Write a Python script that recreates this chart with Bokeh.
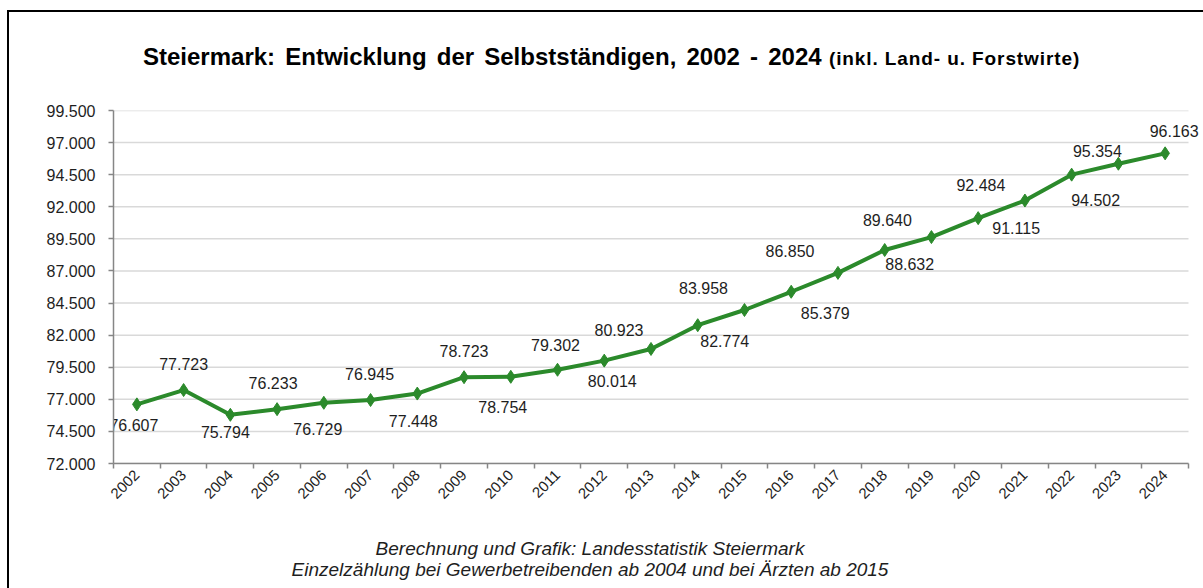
from bokeh.plotting import figure
from bokeh.models import (ColumnDataSource, Range1d, FixedTicker, CustomJSTickFormatter, Div)
from bokeh.layouts import column
from bokeh.core.properties import value
from bokeh.embed import file_html
from bokeh.resources import INLINE
import numpy as np

# ---- data ----
years = [str(y) for y in range(2002, 2025)]
selbststaendige = [76607, 77723, 75794, 76233, 76729, 76945, 77448, 78723, 78754, 79302,
                   80014, 80923, 82774, 83958, 85379, 86850, 88632, 89640, 91115, 92484,
                   94502, 95354, 96163]
y_ticks = [72000 + 2500 * i for i in range(12)]

# label placement offsets (pixels) relative to each point, as in the original
label_dx = [-3, 0, -5, -4, -6, -1, -4, 0, -8, -2, 8, -32, 27, -41, 34, -48, 25, -44, 38, -44, 24, -21, 9]
label_dy = [21, -26, 17, -26, 26, -26, 27, -26, 30, -25, 20, -19, 16, -22, 21, -22, 14, -17, 10, -16, 25, -13, -22]

title_main = "Steiermark: Entwicklung der Selbstständigen, 2002 - 2024"
title_sub = "(inkl. Land- u. Forstwirte)"
footer_1 = "Berechnung und Grafik: Landesstatistik Steiermark"
footer_2 = "Einzelzählung bei Gewerbetreibenden ab 2004 und bei Ärzten ab 2015"

GREEN = "#2b8a2b"
TEXT = "#1e1e1e"
AXIS = "#868686"
FONT = "Liberation Sans"

n = len(years)
xs = [i + 0.5 for i in range(n)]
labels = [f"{v:,}".replace(",", ".") for v in selbststaendige]
src = ColumnDataSource(dict(x=xs, y=selbststaendige, label=labels, dx=label_dx, dy=label_dy))
grid_src = ColumnDataSource(dict(x0=[0] * len(y_ticks), x1=[n] * len(y_ticks), y=y_ticks))

W = 1194
cat_px = 1075 / n              # pixel width of one category
frame_w = W - 104 - 2

p = figure(width=W, height=431, output_backend="svg", toolbar_location=None,
           x_range=Range1d(0, frame_w / cat_px), y_range=Range1d(y_ticks[0], y_ticks[-1]),
           min_border_left=104, min_border_right=2, min_border_top=28, min_border_bottom=50,
           margin=0)
p.outline_line_color = None
p.background_fill_color = "white"
p.border_fill_color = "white"

# gridlines (only across the category area)
p.ygrid.grid_line_color = None
p.xgrid.grid_line_color = None
p.segment("x0", "y", "x1", "y", source=grid_src, line_color="#d9d9d9", line_width=1.5)

# x axis
p.xaxis.bounds = (0, n)
p.xaxis.ticker = FixedTicker(ticks=xs, minor_ticks=list(range(n + 1)))
p.xaxis.formatter = CustomJSTickFormatter(args=dict(years=years), code="return years[Math.floor(tick)];")
p.xaxis.major_tick_line_color = None
p.xaxis.minor_tick_line_color = AXIS
p.xaxis.minor_tick_out = 5
p.xaxis.minor_tick_in = 0
p.xaxis.minor_tick_line_width = 1.5
p.xaxis.major_label_orientation = np.pi / 4
p.xaxis.major_label_standoff = 3
p.xaxis.major_label_text_font = FONT
p.xaxis.major_label_text_font_size = "15px"
p.xaxis.major_label_text_color = TEXT
p.xaxis.axis_line_color = AXIS
p.xaxis.axis_line_width = 1.5

# y axis
p.yaxis.ticker = FixedTicker(ticks=y_ticks, minor_ticks=[])
p.yaxis.formatter = CustomJSTickFormatter(code="return (tick/1000).toFixed(3);")
p.yaxis.major_tick_line_color = AXIS
p.yaxis.major_tick_out = 5
p.yaxis.major_tick_in = 0
p.yaxis.major_tick_line_width = 1.5
p.yaxis.minor_tick_line_color = None
p.yaxis.major_label_standoff = 13
p.yaxis.major_label_text_font = FONT
p.yaxis.major_label_text_font_size = "16px"
p.yaxis.major_label_text_color = TEXT
p.yaxis.axis_line_color = AXIS
p.yaxis.axis_line_width = 1.5

# series
p.line("x", "y", source=src, line_color=GREEN, line_width=4)
p.scatter("x", "y", source=src, marker="diamond", size=13, fill_color=GREEN, line_color=GREEN)
p.text("x", "y", text="label", source=src, x_offset="dx", y_offset="dy",
       text_align="center", text_baseline="middle", text_font=value(FONT),
       text_font_size="16px", text_color=TEXT)

title_html = (
    f'<div style="padding-top:30px; padding-left:134px; line-height:30px; white-space:nowrap; '
    f'font-family:\'{FONT}\'; color:#000;">'
    f'<span style="font-size:24px; font-weight:bold; word-spacing:3.5px;">{title_main}</span> '
    f'<span style="font-size:19px; font-weight:bold; letter-spacing:0.9px; margin-left:4px;">{title_sub}</span></div>'
)
footer_html = (
    f'<div style="padding-top:25px; width:1162px; text-align:center; line-height:21px; '
    f'font-family:\'{FONT}\'; font-style:italic; font-size:19px; color:{TEXT}; white-space:nowrap;">'
    f'{footer_1}<br>{footer_2}</div>'
)
title_div = Div(text=title_html, width=W, height=70, margin=0, styles={"overflow": "visible"})
footer_div = Div(text=footer_html, width=W, height=75, margin=0, styles={"overflow": "visible"})

layout = column(title_div, p, footer_div, spacing=0, margin=(10, 0, 0, 7),
                styles={"border-left": "2px solid #000", "border-top": "2px solid #000",
                        "background": "white"})

open("out.html", "w").write(file_html(layout, INLINE))
